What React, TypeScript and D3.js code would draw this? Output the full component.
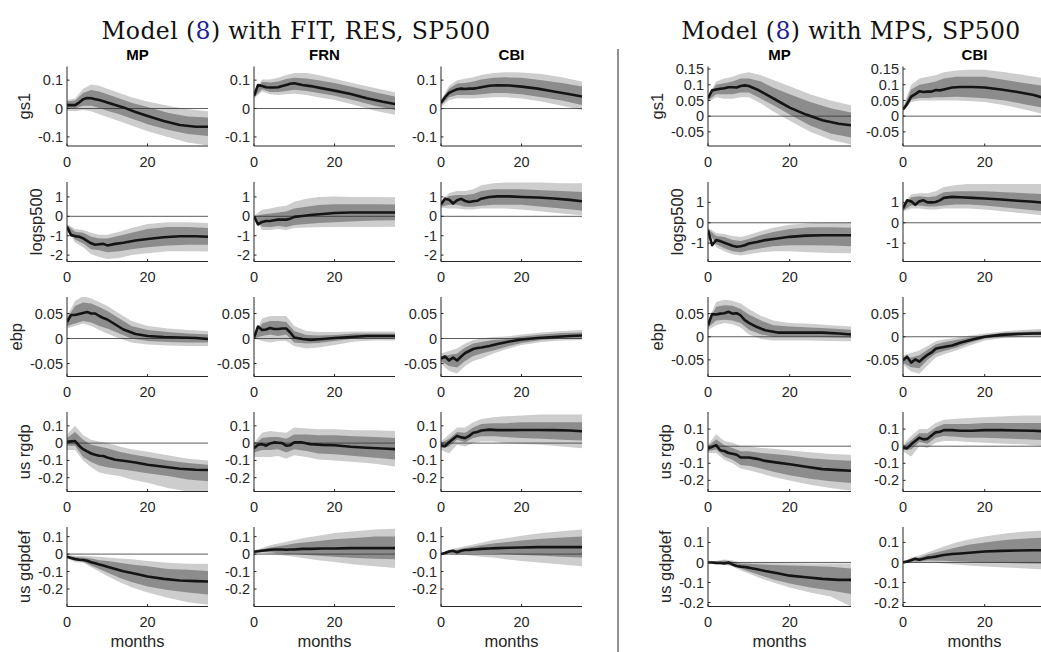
import React from 'react';
import * as d3 from 'd3';

// months at which the median line is read, and months at which the bands are read
const months = [0, 1, 2, 3, 4, 5, 6, 7, 8, 9, 10, 12, 14, 17, 20, 24, 28, 32, 35];
const bandMonths = [0, 2, 4, 6, 8, 10, 13, 16, 20, 25, 30, 35];
const xDomain = [0, 35];
const xTicks = [0, 20];

const variables = ['gs1', 'logsp500', 'ebp', 'us rgdp', 'us gdpdef'];
const leftShocks = ['MP', 'FRN', 'CBI'];
const rightShocks = ['MP', 'CBI'];

const leftDomains = [[-0.132, 0.148], [-2.33, 1.77], [-0.076, 0.083], [-0.28, 0.18], [-0.3, 0.155]];
const rightDomains = [[-0.095, 0.158], [-1.9, 2.0], [-0.086, 0.086], [-0.265, 0.2], [-0.22, 0.177]];
const leftTicks = [[-0.1, 0, 0.1], [-2, -1, 0, 1], [-0.05, 0, 0.05], [-0.2, -0.1, 0, 0.1], [-0.2, -0.1, 0, 0.1]];
const rightTicks = [[-0.05, 0, 0.05, 0.1, 0.15], [-1, 0, 1], [-0.05, 0, 0.05], [-0.2, -0.1, 0, 0.1], [-0.2, -0.1, 0, 0.1]];

// ---- left figure: FIT, RES, SP500 ----
const L_MP_gs1 = {
  med: [0.012, 0.012, 0.012, 0.021, 0.033, 0.037, 0.036, 0.033, 0.03, 0.026, 0.021, 0.012, 0.004, -0.012, -0.026, -0.044, -0.058, -0.064, -0.064],
  hi90: [0.03, 0.035, 0.07, 0.085, 0.08, 0.07, 0.055, 0.04, 0.025, 0.01, -0.003, -0.01],
  hi68: [0.025, 0.028, 0.055, 0.065, 0.06, 0.05, 0.035, 0.02, 0.005, -0.015, -0.028, -0.032],
  lo68: [0.0, 0.0, 0.01, 0.01, 0.002, -0.008, -0.02, -0.035, -0.055, -0.075, -0.09, -0.097],
  lo90: [-0.008, -0.01, -0.005, -0.01, -0.02, -0.03, -0.045, -0.06, -0.08, -0.1, -0.12, -0.13],
};
const L_FRN_gs1 = {
  med: [0.045, 0.083, 0.079, 0.075, 0.074, 0.074, 0.075, 0.079, 0.083, 0.087, 0.089, 0.083, 0.079, 0.071, 0.063, 0.051, 0.036, 0.024, 0.016],
  hi90: [0.055, 0.102, 0.102, 0.108, 0.118, 0.125, 0.125, 0.118, 0.105, 0.088, 0.072, 0.057],
  hi68: [0.05, 0.094, 0.092, 0.095, 0.104, 0.108, 0.106, 0.1, 0.09, 0.074, 0.057, 0.042],
  lo68: [0.04, 0.068, 0.058, 0.058, 0.062, 0.066, 0.062, 0.055, 0.045, 0.028, 0.01, -0.005],
  lo90: [0.035, 0.06, 0.05, 0.048, 0.05, 0.052, 0.048, 0.04, 0.03, 0.012, -0.008, -0.022],
};
const L_CBI_gs1 = {
  med: [0.02, 0.04, 0.055, 0.062, 0.068, 0.07, 0.069, 0.07, 0.07, 0.072, 0.075, 0.08, 0.082, 0.081, 0.077, 0.07, 0.06, 0.05, 0.042],
  hi90: [0.03, 0.08, 0.1, 0.105, 0.11, 0.118, 0.125, 0.128, 0.127, 0.122, 0.11, 0.095],
  hi68: [0.025, 0.07, 0.088, 0.09, 0.095, 0.102, 0.108, 0.11, 0.108, 0.1, 0.09, 0.078],
  lo68: [0.012, 0.04, 0.048, 0.048, 0.048, 0.05, 0.055, 0.055, 0.05, 0.04, 0.028, 0.012],
  lo90: [0.005, 0.03, 0.036, 0.035, 0.035, 0.037, 0.04, 0.04, 0.035, 0.025, 0.01, -0.005],
};
const L_MP_sp = {
  med: [-0.54, -0.97, -1.02, -1.05, -1.14, -1.27, -1.39, -1.47, -1.44, -1.42, -1.5, -1.42, -1.36, -1.25, -1.17, -1.08, -1.03, -1.03, -1.05],
  hi90: [-0.4, -0.65, -0.7, -0.85, -0.95, -0.95, -0.8, -0.6, -0.4, -0.3, -0.3, -0.35],
  hi68: [-0.45, -0.8, -0.85, -1.05, -1.15, -1.15, -1.0, -0.85, -0.65, -0.55, -0.55, -0.6],
  lo68: [-0.65, -1.2, -1.4, -1.7, -1.75, -1.85, -1.8, -1.7, -1.6, -1.5, -1.47, -1.47],
  lo90: [-0.7, -1.35, -1.6, -1.95, -2.1, -2.2, -2.15, -2.0, -1.9, -1.8, -1.8, -1.82],
};
const L_FRN_sp = {
  med: [0, -0.42, -0.29, -0.24, -0.24, -0.2, -0.17, -0.17, -0.17, -0.12, -0.03, 0.02, 0.07, 0.12, 0.17, 0.2, 0.2, 0.2, 0.2],
  hi90: [0.02, 0.34, 0.4, 0.5, 0.55, 0.75, 0.9, 1.0, 1.02, 1.0, 1.0, 0.98],
  hi68: [0.01, 0.1, 0.15, 0.2, 0.25, 0.4, 0.5, 0.58, 0.62, 0.62, 0.62, 0.61],
  lo68: [-0.01, -0.54, -0.55, -0.5, -0.55, -0.45, -0.4, -0.35, -0.3, -0.25, -0.22, -0.2],
  lo90: [-0.02, -0.71, -0.7, -0.65, -0.7, -0.6, -0.58, -0.56, -0.55, -0.55, -0.55, -0.54],
};
const L_CBI_sp = {
  med: [0.62, 0.91, 0.86, 0.66, 0.83, 0.9, 0.79, 0.74, 0.78, 0.8, 0.91, 1.0, 1.03, 1.03, 1.0, 0.97, 0.92, 0.85, 0.78],
  hi90: [0.8, 1.2, 1.3, 1.3, 1.4, 1.6, 1.7, 1.75, 1.75, 1.75, 1.7, 1.7],
  hi68: [0.72, 1.05, 1.1, 1.1, 1.15, 1.3, 1.4, 1.4, 1.4, 1.35, 1.3, 1.25],
  lo68: [0.5, 0.6, 0.6, 0.5, 0.5, 0.55, 0.6, 0.6, 0.6, 0.5, 0.4, 0.3],
  lo90: [0.45, 0.4, 0.4, 0.35, 0.35, 0.4, 0.4, 0.4, 0.35, 0.25, 0.15, 0.05],
};
const L_MP_ebp = {
  med: [0.033, 0.047, 0.047, 0.049, 0.051, 0.053, 0.05, 0.05, 0.045, 0.041, 0.038, 0.028, 0.018, 0.009, 0.005, 0.003, 0.002, 0.001, -0.001],
  hi90: [0.045, 0.075, 0.085, 0.08, 0.073, 0.065, 0.05, 0.035, 0.025, 0.02, 0.017, 0.015],
  hi68: [0.04, 0.065, 0.072, 0.07, 0.063, 0.055, 0.04, 0.025, 0.017, 0.013, 0.01, 0.008],
  lo68: [0.025, 0.03, 0.035, 0.032, 0.025, 0.02, 0.01, 0.0, -0.005, -0.007, -0.008, -0.008],
  lo90: [0.02, 0.025, 0.03, 0.025, 0.017, 0.01, 0.0, -0.008, -0.012, -0.014, -0.015, -0.015],
};
const L_FRN_ebp = {
  med: [0.002, 0.024, 0.017, 0.018, 0.021, 0.019, 0.019, 0.02, 0.02, 0.012, 0.002, -0.001, -0.003, -0.001, 0.001, 0.003, 0.005, 0.005, 0.005],
  hi90: [0.003, 0.04, 0.045, 0.045, 0.045, 0.025, 0.015, 0.013, 0.013, 0.014, 0.014, 0.014],
  hi68: [0.002, 0.03, 0.035, 0.035, 0.033, 0.015, 0.007, 0.006, 0.007, 0.01, 0.01, 0.01],
  lo68: [0.0, 0.005, 0.008, 0.005, 0.008, -0.008, -0.01, -0.009, -0.005, 0.0, 0.0, 0.001],
  lo90: [0.0, -0.005, -0.008, -0.005, -0.005, -0.015, -0.02, -0.018, -0.013, -0.006, -0.004, -0.004],
};
const L_CBI_ebp = {
  med: [-0.04, -0.036, -0.044, -0.038, -0.044, -0.036, -0.029, -0.025, -0.021, -0.019, -0.018, -0.015, -0.011, -0.006, -0.002, 0.001, 0.003, 0.005, 0.006],
  hi90: [-0.03, -0.025, -0.02, -0.01, -0.003, 0.0, 0.003, 0.004, 0.008, 0.012, 0.015, 0.017],
  hi68: [-0.035, -0.033, -0.03, -0.018, -0.01, -0.007, -0.003, -0.001, 0.004, 0.008, 0.011, 0.012],
  lo68: [-0.045, -0.055, -0.058, -0.045, -0.035, -0.03, -0.024, -0.017, -0.009, -0.003, 0.0, 0.0],
  lo90: [-0.05, -0.065, -0.07, -0.055, -0.045, -0.04, -0.03, -0.022, -0.013, -0.007, -0.004, -0.003],
};
const L_MP_gdp = {
  med: [0.008, 0.01, 0.012, -0.015, -0.035, -0.048, -0.06, -0.067, -0.073, -0.075, -0.083, -0.096, -0.102, -0.112, -0.125, -0.137, -0.148, -0.154, -0.156],
  hi90: [0.05, 0.1, 0.045, 0.02, 0.01, 0.0, -0.02, -0.035, -0.05, -0.07, -0.09, -0.1],
  hi68: [0.03, 0.065, 0.02, -0.01, -0.02, -0.03, -0.05, -0.065, -0.08, -0.1, -0.115, -0.125],
  lo68: [-0.015, -0.015, -0.08, -0.11, -0.13, -0.14, -0.15, -0.16, -0.175, -0.19, -0.21, -0.22],
  lo90: [-0.04, -0.04, -0.1, -0.14, -0.17, -0.18, -0.19, -0.21, -0.23, -0.26, -0.28, -0.285],
};
const L_FRN_gdp = {
  med: [-0.03, -0.01, -0.006, -0.015, -0.002, 0.004, 0.002, 0.0, -0.015, -0.012, 0.004, 0.004, -0.006, -0.01, -0.012, -0.021, -0.027, -0.031, -0.035],
  hi90: [0.0, 0.06, 0.07, 0.065, 0.06, 0.09, 0.085, 0.08, 0.08, 0.075, 0.075, 0.07],
  hi68: [-0.01, 0.03, 0.035, 0.035, 0.025, 0.05, 0.05, 0.045, 0.045, 0.04, 0.035, 0.03],
  lo68: [-0.055, -0.04, -0.04, -0.035, -0.055, -0.035, -0.045, -0.06, -0.065, -0.075, -0.085, -0.095],
  lo90: [-0.08, -0.08, -0.08, -0.075, -0.09, -0.07, -0.08, -0.095, -0.1, -0.11, -0.12, -0.135],
};
const L_CBI_gdp = {
  med: [-0.013, -0.018, 0.005, 0.024, 0.042, 0.033, 0.029, 0.042, 0.06, 0.064, 0.073, 0.078, 0.075, 0.075, 0.076, 0.076, 0.075, 0.073, 0.069],
  hi90: [0.01, 0.05, 0.09, 0.09, 0.12, 0.14, 0.15, 0.155, 0.16, 0.165, 0.165, 0.165],
  hi68: [0.0, 0.025, 0.065, 0.06, 0.09, 0.11, 0.115, 0.115, 0.12, 0.12, 0.12, 0.12],
  lo68: [-0.03, -0.02, 0.02, 0.005, 0.03, 0.04, 0.04, 0.035, 0.03, 0.025, 0.02, 0.015],
  lo90: [-0.04, -0.06, -0.01, -0.02, 0.0, 0.01, 0.01, 0.0, -0.005, -0.01, -0.02, -0.03],
};
const L_MP_def = {
  med: [-0.015, -0.023, -0.028, -0.032, -0.034, -0.038, -0.047, -0.053, -0.06, -0.066, -0.072, -0.085, -0.098, -0.113, -0.128, -0.142, -0.151, -0.155, -0.157],
  hi90: [-0.005, -0.01, -0.01, -0.012, -0.015, -0.02, -0.025, -0.03, -0.04, -0.05, -0.055, -0.055],
  hi68: [-0.01, -0.017, -0.02, -0.025, -0.035, -0.04, -0.05, -0.06, -0.07, -0.085, -0.09, -0.097],
  lo68: [-0.02, -0.038, -0.043, -0.065, -0.085, -0.105, -0.135, -0.16, -0.185, -0.205, -0.22, -0.232],
  lo90: [-0.025, -0.045, -0.05, -0.075, -0.1, -0.125, -0.16, -0.19, -0.22, -0.25, -0.275, -0.29],
};
const L_FRN_def = {
  med: [0.013, 0.016, 0.019, 0.022, 0.025, 0.026, 0.026, 0.026, 0.025, 0.026, 0.026, 0.03, 0.03, 0.032, 0.032, 0.034, 0.034, 0.034, 0.034],
  hi90: [0.02, 0.035, 0.05, 0.06, 0.07, 0.08, 0.095, 0.105, 0.12, 0.13, 0.14, 0.145],
  hi68: [0.017, 0.028, 0.038, 0.045, 0.052, 0.06, 0.068, 0.075, 0.085, 0.092, 0.1, 0.1],
  lo68: [0.01, 0.012, 0.01, 0.005, 0.0, 0.0, -0.005, -0.01, -0.015, -0.022, -0.027, -0.03],
  lo90: [0.005, 0.005, 0.0, -0.005, -0.01, -0.015, -0.025, -0.035, -0.045, -0.06, -0.07, -0.08],
};
const L_CBI_def = {
  med: [0.0, 0.006, 0.015, 0.019, 0.011, 0.019, 0.023, 0.024, 0.026, 0.028, 0.03, 0.032, 0.034, 0.036, 0.038, 0.04, 0.04, 0.04, 0.04],
  hi90: [0.005, 0.025, 0.035, 0.045, 0.055, 0.065, 0.08, 0.09, 0.105, 0.12, 0.13, 0.14],
  hi68: [0.003, 0.02, 0.025, 0.035, 0.042, 0.05, 0.06, 0.068, 0.078, 0.088, 0.095, 0.1],
  lo68: [-0.003, 0.008, 0.003, 0.005, 0.005, 0.005, 0.003, 0.0, -0.005, -0.01, -0.015, -0.02],
  lo90: [-0.005, 0.0, -0.005, -0.005, -0.01, -0.015, -0.02, -0.03, -0.04, -0.05, -0.06, -0.07],
};

// ---- right figure: MPS, SP500 ----
const R_MP_gs1 = {
  med: [0.057, 0.082, 0.085, 0.087, 0.089, 0.092, 0.092, 0.091, 0.096, 0.098, 0.096, 0.085, 0.071, 0.049, 0.027, 0.005, -0.013, -0.024, -0.029],
  hi90: [0.065, 0.11, 0.12, 0.125, 0.135, 0.14, 0.13, 0.115, 0.095, 0.07, 0.05, 0.035],
  hi68: [0.06, 0.1, 0.105, 0.11, 0.12, 0.12, 0.11, 0.09, 0.07, 0.045, 0.025, 0.012],
  lo68: [0.05, 0.07, 0.07, 0.07, 0.075, 0.075, 0.055, 0.035, 0.005, -0.03, -0.055, -0.068],
  lo90: [0.045, 0.06, 0.055, 0.055, 0.06, 0.06, 0.04, 0.015, -0.015, -0.05, -0.075, -0.09],
};
const R_CBI_gs1 = {
  med: [0.021, 0.038, 0.062, 0.07, 0.079, 0.077, 0.078, 0.078, 0.083, 0.082, 0.085, 0.091, 0.093, 0.093, 0.091, 0.085, 0.077, 0.067, 0.056],
  hi90: [0.028, 0.1, 0.12, 0.125, 0.13, 0.14, 0.145, 0.148, 0.148, 0.14, 0.13, 0.12],
  hi68: [0.025, 0.085, 0.1, 0.105, 0.11, 0.12, 0.125, 0.125, 0.125, 0.115, 0.105, 0.095],
  lo68: [0.018, 0.052, 0.058, 0.058, 0.06, 0.06, 0.062, 0.06, 0.057, 0.05, 0.037, 0.025],
  lo90: [0.015, 0.045, 0.05, 0.05, 0.05, 0.05, 0.05, 0.048, 0.045, 0.035, 0.02, 0.005],
};
const R_MP_sp = {
  med: [-0.37, -1.1, -0.85, -0.9, -0.98, -1.05, -1.13, -1.18, -1.15, -1.1, -1.02, -0.94, -0.85, -0.77, -0.69, -0.63, -0.61, -0.61, -0.61],
  hi90: [-0.25, -0.5, -0.55, -0.65, -0.7, -0.6, -0.4, -0.25, -0.1, -0.02, 0.0, 0.0],
  hi68: [-0.3, -0.65, -0.7, -0.85, -0.9, -0.8, -0.6, -0.45, -0.3, -0.22, -0.22, -0.24],
  lo68: [-0.42, -1.05, -1.25, -1.4, -1.45, -1.35, -1.25, -1.15, -1.1, -1.1, -1.12, -1.15],
  lo90: [-0.45, -1.2, -1.4, -1.55, -1.6, -1.55, -1.45, -1.4, -1.4, -1.45, -1.48, -1.5],
};
const R_CBI_sp = {
  med: [0.71, 1.1, 1.05, 0.88, 1.05, 1.1, 1.0, 1.0, 1.02, 1.1, 1.22, 1.27, 1.25, 1.22, 1.19, 1.14, 1.08, 1.03, 0.97],
  hi90: [0.85, 1.4, 1.45, 1.45, 1.55, 1.75, 1.85, 1.9, 1.9, 1.9, 1.9, 1.9],
  hi68: [0.8, 1.25, 1.3, 1.25, 1.3, 1.5, 1.55, 1.55, 1.55, 1.5, 1.45, 1.4],
  lo68: [0.6, 0.85, 0.85, 0.8, 0.8, 0.85, 0.9, 0.9, 0.85, 0.75, 0.65, 0.55],
  lo90: [0.55, 0.7, 0.7, 0.65, 0.65, 0.7, 0.7, 0.7, 0.65, 0.55, 0.45, 0.35],
};
const R_MP_ebp = {
  med: [0.025, 0.049, 0.048, 0.05, 0.051, 0.054, 0.05, 0.051, 0.046, 0.036, 0.03, 0.021, 0.014, 0.009, 0.009, 0.009, 0.009, 0.007, 0.005],
  hi90: [0.035, 0.075, 0.08, 0.078, 0.072, 0.06, 0.045, 0.035, 0.03, 0.028, 0.025, 0.022],
  hi68: [0.03, 0.065, 0.068, 0.067, 0.06, 0.048, 0.035, 0.025, 0.022, 0.02, 0.018, 0.015],
  lo68: [0.02, 0.035, 0.037, 0.035, 0.03, 0.015, 0.005, 0.0, 0.0, 0.0, -0.001, -0.002],
  lo90: [0.015, 0.025, 0.03, 0.027, 0.02, 0.005, -0.005, -0.008, -0.008, -0.008, -0.009, -0.01],
};
const R_CBI_ebp = {
  med: [-0.051, -0.043, -0.056, -0.049, -0.054, -0.046, -0.039, -0.034, -0.026, -0.024, -0.022, -0.019, -0.013, -0.006, 0.0, 0.004, 0.006, 0.007, 0.007],
  hi90: [-0.04, -0.035, -0.03, -0.02, -0.01, -0.006, -0.002, 0.002, 0.007, 0.012, 0.015, 0.017],
  hi68: [-0.045, -0.045, -0.04, -0.028, -0.017, -0.012, -0.007, -0.002, 0.004, 0.009, 0.011, 0.012],
  lo68: [-0.056, -0.066, -0.068, -0.05, -0.036, -0.031, -0.024, -0.014, -0.004, 0.001, 0.003, 0.003],
  lo90: [-0.06, -0.075, -0.08, -0.062, -0.045, -0.038, -0.03, -0.02, -0.008, -0.002, 0.0, 0.0],
};
const R_MP_gdp = {
  med: [-0.014, -0.004, 0.006, -0.024, -0.028, -0.04, -0.044, -0.05, -0.066, -0.066, -0.066, -0.074, -0.086, -0.096, -0.106, -0.12, -0.134, -0.14, -0.144],
  hi90: [0.01, 0.07, 0.03, 0.02, 0.0, 0.0, -0.01, -0.015, -0.025, -0.035, -0.045, -0.05],
  hi68: [0.0, 0.04, 0.005, -0.01, -0.03, -0.03, -0.04, -0.045, -0.055, -0.07, -0.08, -0.085],
  lo68: [-0.03, -0.02, -0.06, -0.08, -0.11, -0.115, -0.13, -0.15, -0.17, -0.19, -0.205, -0.215],
  lo90: [-0.04, -0.04, -0.08, -0.1, -0.13, -0.14, -0.16, -0.18, -0.2, -0.225, -0.245, -0.26],
};
const R_CBI_gdp = {
  med: [-0.008, -0.013, 0.011, 0.03, 0.049, 0.04, 0.043, 0.062, 0.081, 0.085, 0.094, 0.094, 0.09, 0.09, 0.094, 0.094, 0.092, 0.09, 0.087],
  hi90: [0.01, 0.06, 0.1, 0.1, 0.135, 0.155, 0.16, 0.165, 0.17, 0.175, 0.18, 0.18],
  hi68: [0.0, 0.035, 0.075, 0.075, 0.11, 0.13, 0.13, 0.13, 0.135, 0.135, 0.135, 0.135],
  lo68: [-0.02, -0.02, 0.025, 0.015, 0.05, 0.06, 0.055, 0.05, 0.05, 0.045, 0.04, 0.035],
  lo90: [-0.03, -0.06, 0.0, -0.01, 0.02, 0.03, 0.03, 0.025, 0.02, 0.015, 0.01, 0.0],
};
const R_MP_def = {
  med: [0.0, 0.0, -0.002, -0.003, -0.005, 0.0, -0.01, -0.018, -0.021, -0.023, -0.026, -0.034, -0.043, -0.054, -0.066, -0.074, -0.082, -0.087, -0.087],
  hi90: [0.003, 0.008, 0.015, 0.01, 0.0, 0.0, -0.002, -0.003, -0.004, -0.005, -0.005, -0.005],
  hi68: [0.002, 0.005, 0.01, 0.004, -0.005, -0.006, -0.01, -0.013, -0.015, -0.018, -0.022, -0.03],
  lo68: [-0.002, -0.006, -0.008, -0.015, -0.03, -0.045, -0.065, -0.085, -0.105, -0.125, -0.14, -0.157],
  lo90: [-0.003, -0.01, -0.012, -0.02, -0.04, -0.055, -0.08, -0.1, -0.125, -0.15, -0.17, -0.22],
};
const R_CBI_def = {
  med: [0.0, 0.005, 0.011, 0.019, 0.013, 0.018, 0.024, 0.026, 0.029, 0.033, 0.037, 0.042, 0.045, 0.05, 0.055, 0.058, 0.06, 0.061, 0.061],
  hi90: [0.005, 0.025, 0.035, 0.05, 0.065, 0.08, 0.1, 0.115, 0.13, 0.145, 0.155, 0.16],
  hi68: [0.003, 0.018, 0.025, 0.04, 0.05, 0.06, 0.075, 0.088, 0.1, 0.112, 0.12, 0.125],
  lo68: [-0.002, 0.005, 0.005, 0.01, 0.008, 0.008, 0.005, 0.003, 0.0, -0.003, -0.005, -0.007],
  lo90: [-0.003, 0.0, 0.0, 0.0, -0.002, -0.005, -0.01, -0.015, -0.02, -0.025, -0.03, -0.035],
};

const leftRows = [
  [L_MP_gs1, L_FRN_gs1, L_CBI_gs1],
  [L_MP_sp, L_FRN_sp, L_CBI_sp],
  [L_MP_ebp, L_FRN_ebp, L_CBI_ebp],
  [L_MP_gdp, L_FRN_gdp, L_CBI_gdp],
  [L_MP_def, L_FRN_def, L_CBI_def],
];
const rightRows = [
  [R_MP_gs1, R_CBI_gs1],
  [R_MP_sp, R_CBI_sp],
  [R_MP_ebp, R_CBI_ebp],
  [R_MP_gdp, R_CBI_gdp],
  [R_MP_def, R_CBI_def],
];

// layout
const W = 1041;
const H = 652;
const rowTops = [66.5, 182, 297, 412, 527];
const panelH = 79.5;
const leftX = [67, 254, 441];
const leftW = 141;
const rightX = [708, 903];
const rightW = 143;

const LIGHT = '#cdcdcd';
const DARK = '#8c8c8c';
const AXIS = '#262626';
const SANS = "'Liberation Sans', Arial, sans-serif";
const SERIF = "'DejaVu Serif', serif";
const TICK_FONT = 14.5;
const LABEL_FONT = 16.5;

const fmt = (v: number) => String(Math.round(v * 1000) / 1000);

let ctx: CanvasRenderingContext2D | null = null;
function textW(s: string, font: string) {
  if (!ctx) ctx = document.createElement('canvas').getContext('2d');
  if (!ctx) return s.length * 7;
  ctx.font = font;
  return ctx.measureText(s).width;
}

type Irf = { med: number[]; hi90: number[]; hi68: number[]; lo68: number[]; lo90: number[] };

function Panel(props: {
  id: string; x0: number; y0: number; w: number; h: number;
  dom: number[]; ticks: number[]; d: Irf;
  title?: string; ylabel?: string; xlabel?: boolean;
}) {
  const { id, x0, y0, w, h, dom, ticks, d, title, ylabel, xlabel } = props;
  const x = d3.scaleLinear().domain(xDomain).range([x0, x0 + w]);
  const y = d3.scaleLinear().domain(dom).range([y0 + h, y0]);
  const band = (lo: number[], hi: number[]) =>
    d3.area<number>()
      .x((_, i) => x(bandMonths[i]))
      .y0((_, i) => y(lo[i]))
      .y1(v => y(v))(hi) || '';
  const med = d3.line<number>().x((_, i) => x(months[i])).y(v => y(v))(d.med) || '';
  const bottom = y0 + h;
  const maxW = d3.max(ticks, t => textW(fmt(t), `${TICK_FONT}px ${SANS}`)) || 0;
  const ylX = x0 - 4 - maxW - 8;
  return (
    <g>
      <defs>
        <clipPath id={id}>
          <rect x={x0} y={y0} width={w} height={h} />
        </clipPath>
      </defs>
      <g clipPath={`url(#${id})`}>
        <path d={band(d.lo90, d.hi90)} fill={LIGHT} />
        <path d={band(d.lo68, d.hi68)} fill={DARK} />
        <line x1={x0} x2={x0 + w} y1={y(0)} y2={y(0)} stroke="#333" strokeWidth={0.8} />
        <path d={med} fill="none" stroke="#141414" strokeWidth={2.6} strokeLinejoin="round" />
      </g>
      {/* axes */}
      <line x1={x0} x2={x0} y1={y0} y2={bottom} stroke={AXIS} strokeWidth={1} />
      <line x1={x0} x2={x0 + w} y1={bottom} y2={bottom} stroke={AXIS} strokeWidth={1} />
      {ticks.map(t => (
        <g key={'y' + t}>
          <line x1={x0} x2={x0 + 2.5} y1={y(t)} y2={y(t)} stroke={AXIS} strokeWidth={1} />
          <text x={x0 - 4} y={y(t)} dy="0.35em" textAnchor="end" fontFamily={SANS} fontSize={TICK_FONT} fill={AXIS}>
            {fmt(t)}
          </text>
        </g>
      ))}
      {xTicks.map(t => (
        <g key={'x' + t}>
          <line x1={x(t)} x2={x(t)} y1={bottom} y2={bottom - 2.5} stroke={AXIS} strokeWidth={1} />
          <text x={x(t)} y={bottom + 20.5} textAnchor="middle" fontFamily={SANS} fontSize={TICK_FONT} fill={AXIS}>
            {t}
          </text>
        </g>
      ))}
      {title && (
        <text x={x0 + w / 2} y={y0 - 7} textAnchor="middle" fontFamily={SANS} fontSize={15} fontWeight="bold" fill="#000">
          {title}
        </text>
      )}
      {ylabel && (
        <text transform={`translate(${ylX},${y0 + h / 2}) rotate(-90)`} textAnchor="middle" fontFamily={SANS} fontSize={LABEL_FONT} fill={AXIS}>
          {ylabel}
        </text>
      )}
      {xlabel && (
        <text x={x0 + w / 2} y={647} textAnchor="middle" fontFamily={SANS} fontSize={LABEL_FONT} fill={AXIS}>
          months
        </text>
      )}
    </g>
  );
}

export default function App() {
  return (
    <svg width={W} height={H} style={{ position: 'absolute', left: 0, top: 0, background: '#fff' }}>
      <rect width={W} height={H} fill="#fff" />
      <text x={296} y={39} textAnchor="middle" fontFamily={SERIF} fontSize={23.5} letterSpacing={0.4} fill="#111">
        <tspan>Model (</tspan>
        <tspan fill="#1f1f96">8</tspan>
        <tspan>) with FIT, RES, SP500</tspan>
      </text>
      <text x={851} y={39} textAnchor="middle" fontFamily={SERIF} fontSize={23.5} letterSpacing={0.4} fill="#111">
        <tspan>Model (</tspan>
        <tspan fill="#1f1f96">8</tspan>
        <tspan>) with MPS, SP500</tspan>
      </text>
      <line x1={618} x2={618} y1={49} y2={H} stroke="#555" strokeWidth={1.3} />
      {leftRows.map((row, r) =>
        row.map((d, c) => (
          <Panel
            key={`L${r}${c}`}
            id={`clipL${r}${c}`}
            x0={leftX[c]} y0={rowTops[r]} w={leftW} h={panelH}
            dom={leftDomains[r]} ticks={leftTicks[r]} d={d}
            title={r === 0 ? leftShocks[c] : undefined}
            ylabel={c === 0 ? variables[r] : undefined}
            xlabel={r === variables.length - 1}
          />
        ))
      )}
      {rightRows.map((row, r) =>
        row.map((d, c) => (
          <Panel
            key={`R${r}${c}`}
            id={`clipR${r}${c}`}
            x0={rightX[c]} y0={rowTops[r]} w={rightW} h={panelH}
            dom={rightDomains[r]} ticks={rightTicks[r]} d={d}
            title={r === 0 ? rightShocks[c] : undefined}
            ylabel={c === 0 ? variables[r] : undefined}
            xlabel={r === variables.length - 1}
          />
        ))
      )}
    </svg>
  );
}
